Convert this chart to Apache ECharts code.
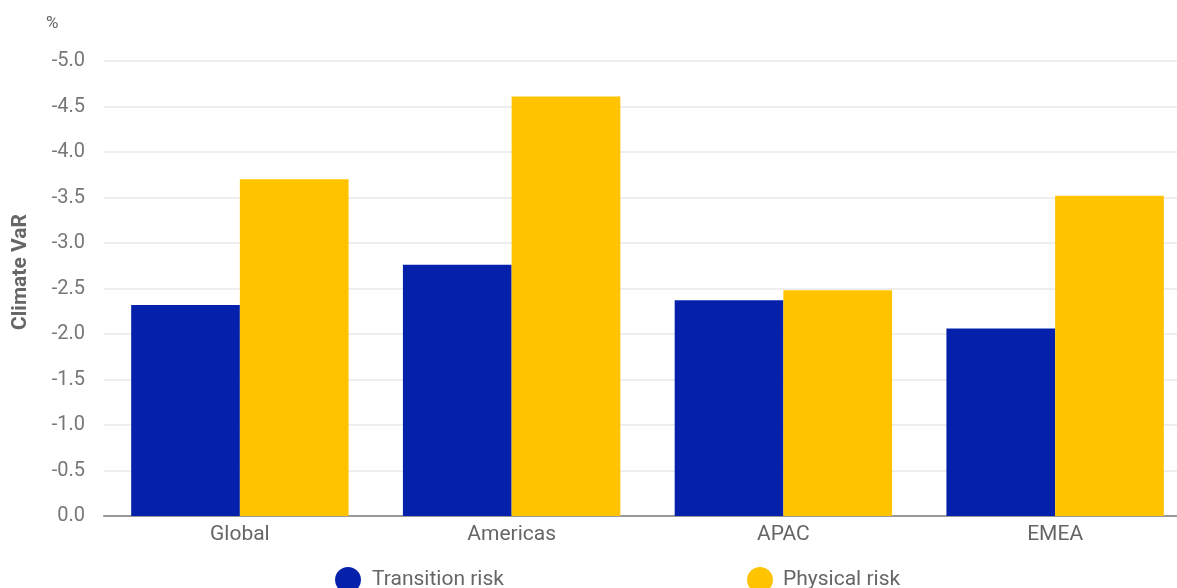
<!DOCTYPE html>
<html>
<head>
<meta charset="utf-8">
<script src="https://cdn.jsdelivr.net/npm/echarts@6/dist/echarts.min.js"></script>
<style>
  html, body { margin: 0; padding: 0; background: #ffffff; overflow: hidden; width: 1177px; height: 588px; }
  /* plot runs slightly past the right edge of the page */
  #chart { width: 1191px; height: 588px; }
</style>
</head>
<body>
<div id="chart"></div>
<script>
// Regions on the category axis
const regions = ['Global', 'Americas', 'APAC', 'EMEA'];
// Climate VaR (%) by risk type
const transitionRisk = [-2.32, -2.76, -2.37, -2.06];
const physicalRisk = [-3.70, -4.61, -2.48, -3.52];
const seriesNames = ['Transition risk', 'Physical risk'];
const yTicks = { min: -5, max: 0, step: 0.5 };

const textFont = 'Roboto, "Liberation Sans", sans-serif';
const blue = '#0521ab';
const yellow = '#ffc300';
const grey = '#666666';

const chart = echarts.init(document.getElementById('chart'), null, { renderer: 'canvas' });

chart.setOption({
  animation: false,
  backgroundColor: '#ffffff',
  textStyle: { fontFamily: textFont },
  graphic: [
    {
      type: 'text',
      left: 46,
      top: 15,
      style: { text: '%', fontFamily: textFont, fontSize: 17, fill: grey }
    },
    {
      type: 'text',
      x: 21,
      y: 272,
      rotation: Math.PI / 2,
      style: {
        text: 'Climate VaR',
        fontFamily: textFont,
        fontSize: 21,
        fontWeight: 'bold',
        fill: grey,
        align: 'center',
        verticalAlign: 'middle'
      }
    }
  ],
  legend: [
    {
      data: [seriesNames[0]],
      left: 335,
      top: 567,
      padding: 0,
      icon: 'circle',
      itemWidth: 26,
      itemHeight: 26,
      textStyle: { fontFamily: textFont, fontSize: 21, color: grey, padding: [0, 0, 0, 6] }
    },
    {
      data: [seriesNames[1]],
      left: 747,
      top: 567,
      padding: 0,
      icon: 'circle',
      itemWidth: 26,
      itemHeight: 26,
      textStyle: { fontFamily: textFont, fontSize: 21, color: grey, padding: [0, 0, 0, 5] }
    }
  ],
  grid: { left: 104, top: 61, right: 0, bottom: 72, containLabel: false },
  xAxis: {
    type: 'category',
    data: regions,
    axisLine: { show: true, lineStyle: { color: '#999999', width: 2 } },
    axisTick: { show: false },
    axisLabel: { color: grey, fontSize: 21, margin: 8, fontFamily: textFont }
  },
  yAxis: {
    type: 'value',
    inverse: true,
    min: yTicks.min,
    max: yTicks.max,
    interval: yTicks.step,
    axisLine: { show: false },
    axisTick: { show: false },
    axisLabel: {
      color: '#777777',
      fontSize: 20,
      margin: 19,
      fontFamily: textFont,
      formatter: v => v.toFixed(1)
    },
    splitLine: { show: true, lineStyle: { color: '#e8e8e8', width: 1.5 } }
  },
  series: [
    {
      name: seriesNames[0],
      type: 'bar',
      data: transitionRisk,
      itemStyle: { color: blue },
      barGap: '0%',
      barCategoryGap: '20%'
    },
    {
      name: seriesNames[1],
      type: 'bar',
      data: physicalRisk,
      itemStyle: { color: yellow },
      barGap: '0%',
      barCategoryGap: '20%'
    }
  ]
});
</script>
</body>
</html>
